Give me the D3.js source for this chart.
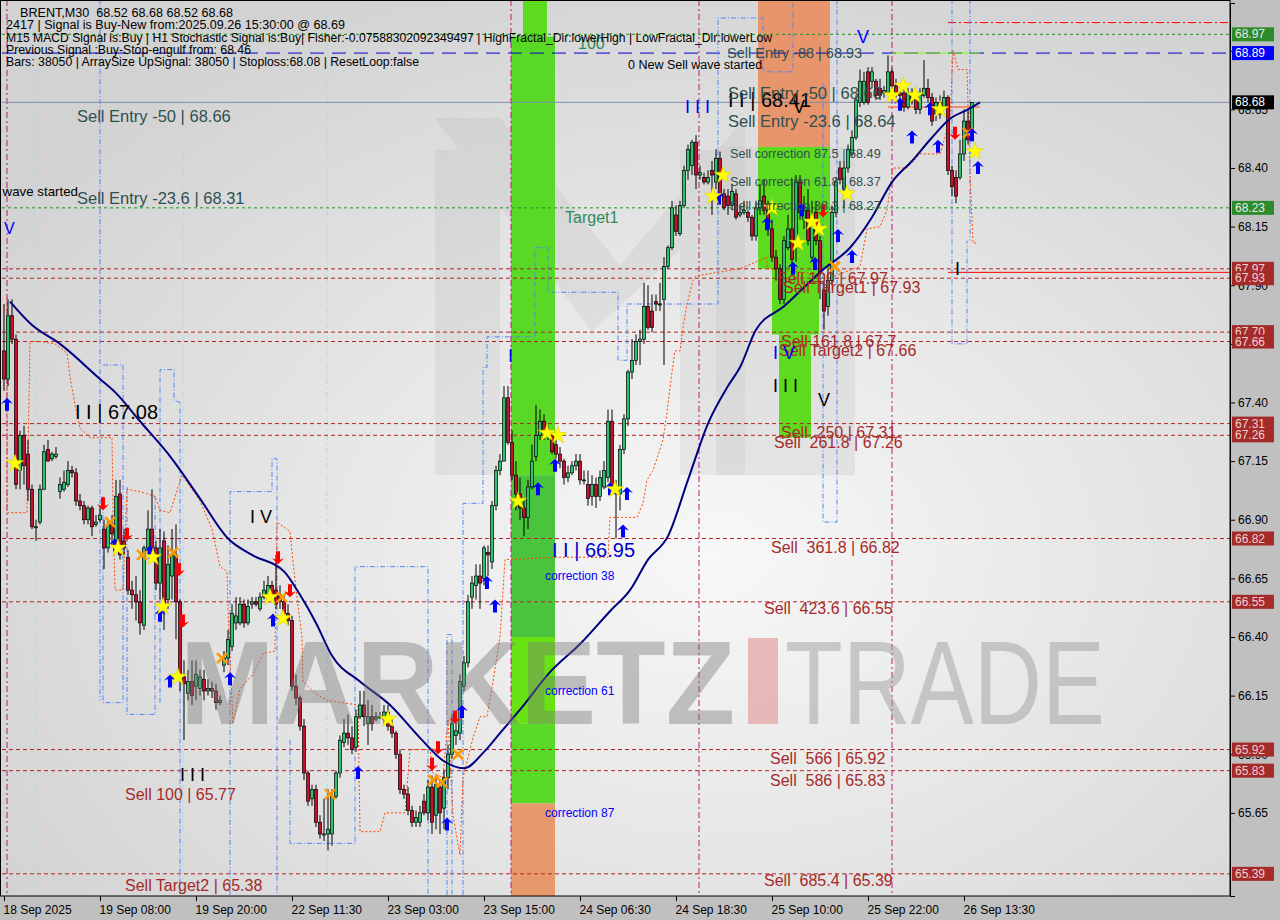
<!DOCTYPE html>
<html><head><meta charset="utf-8">
<script src="https://cdn.jsdelivr.net/npm/d3@7/dist/d3.min.js"></script>
<style>
body{margin:0;background:#c0c0c0;}
svg{display:block;font-family:"Liberation Sans",Arial,sans-serif;}
text{white-space:pre;}
</style>
</head><body>
<svg id="chart" width="1280" height="920"></svg>
<script>
// ---------------- DATA ----------------
const open = [67.62,67.50,67.77,67.67,67.11,67.26,67.18,67.03,66.87,66.89,
67.03,67.20,67.16,67.17,67.02,67.03,67.05,67.11,67.10,66.98,
66.96,66.90,66.95,66.88,66.90,66.86,66.78,66.88,66.81,67.01,
66.81,66.74,66.60,66.58,66.55,66.45,66.78,66.86,66.78,66.63,
66.81,66.56,66.66,66.75,66.55,66.23,66.16,66.21,66.19,66.18,
66.22,66.17,66.18,66.17,66.12,66.28,66.31,66.36,66.46,66.46,
66.54,66.46,66.54,66.55,66.52,66.57,66.56,66.62,66.60,66.58,
66.55,66.50,66.47,66.19,66.14,66.02,65.82,65.71,65.75,65.61,
65.56,65.56,65.56,65.72,65.82,65.95,65.99,65.97,65.93,66.06,
66.11,66.03,66.06,66.05,66.06,66.05,66.08,66.02,65.99,65.90,
65.75,65.73,65.66,65.61,65.61,65.70,65.65,65.76,65.64,65.76,
65.67,65.80,65.90,65.98,65.99,66.19,66.29,66.57,66.62,66.66,
66.65,66.76,66.72,66.96,67.11,67.15,67.42,67.23,67.09,67.01,
66.95,66.91,67.04,67.17,67.26,67.32,67.27,67.26,67.22,67.18,
67.15,67.08,67.10,67.13,67.15,67.07,67.05,67.00,67.05,67.00,
67.04,67.08,67.32,67.02,67.01,67.20,67.33,67.53,67.58,67.66,
67.67,67.81,67.79,67.83,67.82,67.84,67.98,68.06,68.20,68.12,
68.24,68.39,68.41,68.51,68.37,68.36,68.34,68.39,68.34,68.44,
68.29,68.28,68.24,68.29,68.20,68.21,68.21,68.19,68.11,68.23,
68.28,68.22,68.14,68.02,67.97,67.84,68.06,68.14,68.09,68.34,
68.18,68.22,68.02,68.21,68.09,67.88,67.81,67.92,68.21,68.40,
68.31,68.40,68.46,68.53,68.68,68.68,68.81,68.77,68.77,68.74,
68.72,68.72,68.81,68.75,68.72,68.72,68.66,68.72,68.70,68.65,
68.71,68.74,68.70,68.63,68.68,68.66,68.70,68.39,68.36,68.36,
68.46,68.60,68.52];
const high = [67.82,67.84,67.84,67.69,67.28,67.30,67.24,67.05,66.90,67.05,
67.22,67.24,67.19,67.21,67.08,67.11,67.15,67.13,67.12,67.01,
66.98,66.96,66.96,66.92,66.96,66.90,66.90,66.92,67.07,67.07,
66.86,66.77,66.64,66.66,66.60,66.79,66.94,67.03,66.81,66.86,
66.85,66.79,66.86,66.88,66.56,66.30,66.26,66.30,66.30,66.26,
66.26,66.22,66.21,66.20,66.15,66.34,66.43,66.54,66.57,66.57,
66.56,66.56,66.57,66.57,66.59,66.64,66.66,66.64,66.75,66.62,
66.58,66.54,66.49,66.24,66.15,66.05,65.83,65.77,65.77,65.64,
65.71,65.75,65.75,65.83,65.98,66.05,66.07,66.02,66.09,66.17,
66.17,66.13,66.11,66.08,66.08,66.11,66.11,66.05,66.00,65.92,
65.77,65.76,65.68,65.66,65.68,65.73,65.79,65.81,65.81,65.79,
65.83,65.94,66.07,66.05,66.24,66.32,66.58,66.66,66.71,66.71,
66.79,66.79,66.98,67.13,67.18,67.47,67.47,67.28,67.15,67.08,
66.98,67.07,67.22,67.39,67.37,67.35,67.30,67.28,67.24,67.21,
67.16,67.13,67.15,67.18,67.18,67.11,67.11,67.09,67.08,67.11,
67.15,67.37,67.37,67.07,67.22,67.35,67.54,67.67,67.69,67.71,
67.91,67.90,67.86,67.86,67.91,68.02,68.07,68.26,68.24,68.26,
68.41,68.50,68.52,68.54,68.41,68.38,68.39,68.43,68.48,68.47,
68.31,68.31,68.33,68.31,68.24,68.26,68.22,68.20,68.26,68.33,
68.35,68.26,68.18,68.05,67.99,68.11,68.20,68.35,68.37,68.37,
68.28,68.31,68.26,68.26,68.11,67.92,67.97,68.24,68.36,68.43,
68.43,68.50,68.56,68.71,68.82,68.81,68.83,68.83,68.78,68.78,
68.75,68.88,68.83,68.78,68.75,68.75,68.74,68.74,68.73,68.74,
68.86,68.78,68.72,68.70,68.71,68.73,68.71,68.41,68.39,68.52,
68.65,68.65,68.68];
const low = [67.45,67.47,67.65,67.03,67.03,67.05,66.98,66.86,66.81,66.88,
67.03,67.15,67.15,67.16,66.99,67.02,67.04,67.08,66.96,66.94,
66.88,66.88,66.83,66.87,66.89,66.69,66.76,66.79,66.79,66.73,
66.75,66.58,66.52,66.47,66.41,66.43,66.75,66.73,66.60,66.56,
66.43,66.52,66.56,66.39,66.17,65.96,66.13,66.11,66.13,66.15,
66.13,66.15,66.14,66.09,66.11,66.25,66.28,66.34,66.43,66.45,
66.44,66.45,66.52,66.53,66.51,66.56,66.55,66.56,66.52,66.52,
66.47,66.45,66.17,66.11,66.00,65.79,65.68,65.68,65.59,65.54,
65.53,65.49,65.51,65.71,65.80,65.93,65.94,65.90,65.91,66.05,
66.02,65.94,66.00,66.04,66.05,66.03,66.00,65.97,65.88,65.73,
65.71,65.64,65.59,65.59,65.59,65.64,65.62,65.56,65.58,65.56,
65.58,65.75,65.88,65.94,65.96,66.17,66.27,66.52,66.56,66.52,
66.62,66.66,66.69,66.94,67.09,67.15,67.22,67.07,66.94,66.90,
66.83,66.86,67.03,67.15,67.24,67.24,67.24,67.18,67.16,67.12,
67.05,67.06,67.09,67.11,67.05,67.05,66.96,66.96,66.95,66.98,
67.03,67.06,67.01,66.82,66.94,67.18,67.30,67.50,67.56,67.56,
67.65,67.71,67.70,67.79,67.79,67.56,67.97,68.05,68.11,68.11,
68.23,68.35,68.37,68.31,68.35,68.33,68.33,68.20,68.31,68.26,
68.22,68.20,68.22,68.18,68.19,68.20,68.17,68.09,68.09,68.20,
68.20,68.11,68.00,67.92,67.82,67.82,68.05,67.99,68.00,68.18,
68.14,68.07,68.00,68.07,67.84,67.71,67.77,67.90,68.19,68.33,
68.23,68.38,68.45,68.52,68.66,68.67,68.67,68.74,68.69,68.69,
68.70,68.71,68.73,68.70,68.69,68.64,68.65,68.67,68.63,68.63,
68.70,68.68,68.58,68.60,68.61,68.65,68.37,68.28,68.25,68.35,
68.43,68.50,68.52];
const close = [67.50,67.77,67.67,67.05,67.26,67.13,67.03,66.87,66.87,67.03,
67.19,67.15,67.18,67.18,67.05,67.06,67.11,67.10,66.98,66.96,
66.90,66.95,66.87,66.89,66.92,66.78,66.88,66.84,67.00,66.75,
66.78,66.60,66.58,66.55,66.46,66.78,66.86,66.78,66.63,66.78,
66.53,66.71,66.75,66.55,66.23,66.20,66.21,66.15,66.24,66.23,
66.17,66.18,66.17,66.12,66.13,66.31,66.39,66.50,66.49,66.54,
66.46,66.53,66.55,66.54,66.57,66.60,66.62,66.58,66.54,66.55,
66.50,66.47,66.19,66.14,66.02,65.82,65.70,65.75,65.61,65.56,
65.56,65.58,65.72,65.82,65.96,65.99,65.97,65.92,66.06,66.11,
66.06,66.06,66.03,66.06,66.06,66.08,66.02,65.99,65.90,65.75,
65.73,65.66,65.61,65.63,65.65,65.65,65.76,65.61,65.77,65.65,
65.80,65.90,66.03,66.00,66.21,66.29,66.55,66.63,66.66,66.63,
66.78,66.75,66.96,67.11,67.15,67.42,67.23,67.09,67.01,66.95,
66.91,67.04,67.15,67.26,67.32,67.27,67.27,67.19,67.18,67.15,
67.08,67.10,67.13,67.15,67.07,67.07,66.99,67.05,67.00,67.08,
67.11,67.32,67.03,67.01,67.20,67.33,67.53,67.58,67.66,67.67,
67.81,67.72,67.72,67.82,67.82,67.98,68.06,68.23,68.13,68.24,
68.39,68.48,68.51,68.37,68.38,68.34,68.36,68.37,68.44,68.29,
68.23,68.24,68.30,68.19,68.21,68.22,68.19,68.11,68.23,68.26,
68.22,68.14,68.02,67.97,67.84,68.09,68.14,68.01,68.34,68.21,
68.22,68.09,68.15,68.09,67.95,67.79,67.92,68.21,68.34,68.35,
68.40,68.48,68.53,68.69,68.77,68.77,68.68,68.81,68.71,68.71,
68.73,68.81,68.75,68.72,68.71,68.66,68.72,68.69,68.65,68.72,
68.74,68.70,68.60,68.68,68.63,68.70,68.39,68.32,68.28,68.46,
68.60,68.52,68.68];

// moving average: bar index, value
const maIdx = [1.5,7,14,24,28,34,42,49,56,62,70,74,78,82,89,96.5,104,110,115,120,124,129,136.5,144,151.5,156.5,161,166,171,176,181,184,188,195,205,211.5,217,222,227,232,236.5,241,244];
const maVal = [67.83,67.73,67.65,67.50,67.44,67.32,67.16,66.99,66.82,66.75,66.68,66.58,66.46,66.32,66.21,66.11,65.97,65.87,65.84,65.91,65.99,66.09,66.25,66.37,66.51,66.60,66.73,66.83,67.07,67.31,67.47,67.55,67.71,67.81,67.97,68.06,68.19,68.34,68.43,68.53,68.61,68.65,68.68];

// axis
const priceTicks = [65.65,65.90,66.15,66.40,66.65,66.90,67.15,67.40,67.65,67.90,68.15,68.40,68.65,68.90];
const timeIdx = [0,24,48,72,96,120,144,168,192,216,240];
const timeLabels = ["18 Sep 2025","19 Sep 08:00","19 Sep 20:00","22 Sep 11:30","23 Sep 03:00","23 Sep 15:00","24 Sep 06:30","24 Sep 18:30","25 Sep 10:00","25 Sep 22:00","26 Sep 13:30"];

// levels
const redLevels = [67.97,67.93,67.70,67.66,67.31,67.26,66.82,66.55,65.92,65.83,65.39];
const greenLevels = [68.97,68.23];
const blueLevel = 68.89;
const lastPrice = 68.68;

// markers [index, price]
const stars = [[2.75,67.14],[28.5,66.78],[37.25,66.74],[39.75,66.53],[43.5,66.23],[66.5,66.57],[69.75,66.48],[96,66.05],[128.5,66.98],[135.75,67.27],[138.5,67.26],[152.75,67.03],[179.75,68.37],[177.25,68.28],[192,68.23],[198.5,68.08],[202,68.17],[203.75,68.14],[210.75,68.29],[222,68.71],[224.75,68.75],[227.75,68.71],[234,68.65],[242.75,68.47]];
const crosses = [[26.5,66.89],[34.5,66.75],[42.25,66.76],[54.5,66.31],[69.5,66.57],[81.5,65.73],[107.25,65.79],[109.5,65.78],[113.5,65.90],[207.75,67.98],[241,68.55]];
const upArrows = [[0.75,67.42],[27.75,66.82],[36.5,66.79],[39,66.52],[41.5,66.24],[56.5,66.25],[67.25,66.50],[88.5,65.85],[110.75,65.63],[114.5,66.11],[122.75,66.56],[120.75,66.66],[133.5,67.06],[137.75,67.16],[151.5,67.06],[155.75,67.04],[154.75,66.88],[178.75,68.30],[190.75,68.19],[197.25,68.00],[199.5,68.25],[202.75,68.02],[208.5,68.14],[212,68.05],[224,68.70],[227,68.56],[231.5,68.68],[233.5,68.52],[242,68.57],[243.5,68.43]];
const downArrows = [[24.75,66.94],[30.75,66.81],[43.75,66.66],[44.75,66.44],[68.5,66.71],[71.5,66.57],[108.5,65.90],[107,65.83],[112.75,66.03],[204.75,68.19],[237.75,68.52]];

// trailing stop (orange dotted) [index, price]
const orangeTrail = [[0.75,67.85],[0.75,66.93],[5.75,66.93],[6.5,67.66],[9,67.66],[12.75,67.65],[15.75,67.61],[16.5,67.51],[17.75,67.39],[19,67.29],[21.5,67.25],[27,67.25],[27.25,66.94],[27.75,66.60],[29.75,66.60],[30.75,67.03],[34,67.02],[37.75,67.00],[39,66.94],[41.5,66.93],[44.5,67.09],[47,67.03],[49,66.98],[52,66.86],[54,66.70],[55.75,66.68],[56,66.52],[57.25,66.03],[59,66.18],[62.25,66.24],[64.75,66.33],[67.75,66.34],[68.25,66.89],[71.5,66.85],[72.25,66.72],[73.25,66.57],[74.5,66.40],[74.75,66.21],[77.75,66.16],[80.75,66.13],[88.5,66.11],[89,65.57],[94,65.57],[95.25,65.65],[100.25,65.65],[101.5,65.92],[106.5,65.92],[107.25,65.82],[109.75,65.80],[111,66.05],[112.25,65.64],[114,65.47],[114.75,65.80],[117.25,65.97],[119,66.06],[120.75,66.06],[122.25,66.21],[124,66.40],[125.25,66.73],[137.75,66.74],[151,66.74],[151.5,66.91],[158.25,66.91],[159.75,66.97],[160.75,67.07],[162.25,67.11],[164.75,67.24],[165.75,67.36],[167,67.53],[167.75,67.62],[169,67.62],[169.75,67.72],[170.75,67.82],[171.5,67.87],[172.25,67.92],[173,67.94],[184,67.97],[190.75,68.02],[190.75,67.97],[207.75,67.94],[214,67.98],[215.75,68.14],[219,68.15],[220.75,68.22],[222.25,68.40],[225.75,68.40],[229,68.46],[234,68.46],[236.5,68.60],[237.25,68.90],[238.5,68.82],[240.75,68.82],[241.5,68.38],[242.25,68.08],[243.25,68.08]];

// fractal channels (blue dash-dot) [index, price]
const blueChannels = [
  [[24,69.12],[24,66.13]],
  [[24.75,67.56],[29.75,67.56],[29.75,66.12],[24.75,66.12],[24.75,67.0]],
  [[30.75,67.04],[30.75,66.07],[37.75,66.07],[37.75,67.0]],
  [[39,66.12],[39,67.54],[42.5,67.54],[42.5,67.41],[44,67.40],[44,65.30]],
  [[56.5,65.30],[56.5,67.02],[67,67.02],[67,67.16],[68.25,67.16],[68.25,65.30]],
  [[71.5,65.96],[71.5,65.52],[87.75,65.52],[87.75,66.70],[106,66.70],[106,65.30]],
  [[110.75,65.30],[110.75,66.41],[112,66.41],[112,65.30]],
  [[114.75,65.30],[114.75,66.97],[119.75,66.97],[119.75,67.55],[120.75,67.55],[120.75,67.68],[132.75,67.68],[132.75,68.06],[136,68.06],[136,67.87],[153.5,67.87],[153.5,67.58],[155.75,67.58],[155.75,67.82],[178.5,67.82],[178.5,69.04],[189.75,69.04],[189.75,68.81],[197.25,68.81],[197.25,69.12]],
  [[204.75,68.76],[204.75,66.89],[208.25,66.89],[208.25,69.12]],
  [[237,69.12],[237,67.65],[240.75,67.65],[240.75,68.09]],
  [[241.5,69.12],[241.5,68.09]]
];

// annotations: text, bar index, price, style key
const notes = [
  ["Sell Entry -50 | 68.66",18.25,68.62,"entry"],
  ["Sell Entry -23.6 | 68.31",18.25,68.27,"entry"],
  ["0 New Sell wave started",18.5,68.30,"noteEnd"],
  ["V",0,68.14,"blue16"],
  ["I I | 67.08",17.75,67.36,"black20"],
  ["I V",61.5,66.91,"black18"],
  ["I I I",44,65.81,"black18"],
  ["Sell 100 | 65.77",30.25,65.73,"sell"],
  ["Sell Target2 | 65.38",30.25,65.34,"sell"],
  ["I",126,67.60,"blue18"],
  ["I I | 66.95",137,66.77,"blue20"],
  ["Target1",140.25,68.19,"green"],
  ["100",143.5,68.93,"green"],
  ["correction 38",135.25,66.66,"corr"],
  ["correction 61",135.25,66.17,"corr"],
  ["correction 87",135.25,65.65,"corr"],
  ["0 New Sell wave started",156,68.84,"note"],
  ["I I I",170.25,68.66,"blue18"],
  ["I I | 68.41",181,68.69,"black20"],
  ["V",197.25,68.66,"black18"],
  ["Sell Entry -88 | 68.93",180.75,68.89,"entry14"],
  ["Sell Entry -50 | 68.66",181,68.72,"entry"],
  ["Sell Entry -23.6 | 68.64",181,68.60,"entry"],
  ["V",213.25,68.96,"blue18"],
  ["Sell correction 87.5 | 68.49",181.5,68.46,"corrS"],
  ["Sell correction 61.8 | 68.37",181.5,68.34,"corrS"],
  ["Sell correction 38.2 | 68.27",181.5,68.24,"corrS"],
  ["Sell 100 | 67.97",193.25,67.93,"sell"],
  ["Sell Target1 | 67.93",194.75,67.89,"sell"],
  ["Sell 161.8 | 67.7",194.25,67.66,"sell"],
  ["Sell Target2 | 67.66",193.75,67.62,"sell"],
  ["I V",192.25,67.61,"blue18"],
  ["I I I",192.25,67.47,"black18"],
  ["V",203.5,67.41,"black18"],
  ["Sell  250 | 67.31",194.25,67.27,"sell"],
  ["Sell  261.8 | 67.26",192.5,67.23,"sell"],
  ["Sell  361.8 | 66.82",191.75,66.78,"sell"],
  ["Sell  423.6 | 66.55",190,66.52,"sell"],
  ["Sell  566 | 65.92",191.5,65.88,"sell"],
  ["Sell  586 | 65.83",191.5,65.79,"sell"],
  ["Sell  685.4 | 65.39",190,65.36,"sell"],
  ["I",237.75,67.97,"black18"]
];

const header = [
  "BRENT,M30  68.52 68.68 68.52 68.68",
  "2417 | Signal is Buy-New from:2025.09.26 15:30:00 @ 68.69",
  "M15 MACD Signal is:Buy | H1 Stochastic Signal is:Buy| Fisher:-0.07588302092349497 | HighFractal_Dir:lowerHigh | LowFractal_Dir:lowerLow",
  "Previous Signal :Buy-Stop-engulf from: 68.46",
  "Bars: 38050 | ArraySize UpSignal: 38050 | Stoploss:68.08 | ResetLoop:false"
];

// ---------------- DRAW ----------------
const svg = d3.select("#chart");
const PR = 1230, PB = 896;
const x = d3.scaleLinear().domain([-0.5, 306.5]).range([2, PR]);
const y = d3.scaleLinear().domain([65.2955, 69.1036]).range([PB, 3]);

const styles = {
  entry:{fill:"#2f4f4f",size:16.5}, entry14:{fill:"#2f4f4f",size:14.5},
  noteEnd:{fill:"#000",size:13.3,anchor:"end"}, note:{fill:"#000",size:12.5},
  blue16:{fill:"#0000ff",size:16}, blue18:{fill:"#0000ff",size:18}, blue20:{fill:"#0000cd",size:20},
  black18:{fill:"#000",size:18}, black20:{fill:"#000",size:20},
  sell:{fill:"#a52a2a",size:16}, green:{fill:"#2e8b57",size:16},
  corr:{fill:"#0000ff",size:12}, corrS:{fill:"#2f4f4f",size:12.7}
};

const defs = svg.append("defs");
const rg = defs.append("radialGradient").attr("id","bg").attr("cx","58%").attr("cy","62%").attr("r","70%");
rg.append("stop").attr("offset","0%").attr("stop-color","#f8f8f8");
rg.append("stop").attr("offset","100%").attr("stop-color","#d2d2d2");
defs.append("clipPath").attr("id","clip").append("rect").attr("x",0).attr("y",0).attr("width",PR).attr("height",PB);

svg.append("rect").attr("width",1280).attr("height",920).attr("fill","#c0c0c0");
svg.append("rect").attr("x",0).attr("y",0).attr("width",PR).attr("height",PB).attr("fill","url(#bg)");

const plot = svg.append("g").attr("clip-path","url(#clip)");

// background M logo (decoration)
const logo = plot.append("g").attr("fill","#a8a8a8").attr("opacity",0.16);
[[[435,150],[500,150],[500,475],[435,475]],
 [[435,118],[500,118],[620,265],[592,332]],
 [[592,332],[620,265],[745,118],[745,190]],
 [[680,150],[745,150],[745,475],[680,475]]].forEach(p=>logo.append("polygon").attr("points",p.map(d=>d.join(",")).join(" ")));

// bands
const band = (i0,i1,p0,p1,col,op=1)=>plot.append("rect").attr("x",x(i0)).attr("width",x(i1)-x(i0))
  .attr("y",y(p1)).attr("height",y(p0)-y(p1)).attr("fill",col).attr("opacity",op);
band(178,212.75,67.09,68.49,"#c8c8c8",0.35);
band(129.75,135.75,68.96,69.12,"#5ddb1f");
band(126.75,137.75,67.09,68.96,"#5ad826");
band(126.75,137.75,66.40,67.09,"#4ac43c");
band(126.75,137.75,66.03,66.40,"#68e212");
band(126.75,137.75,65.69,66.03,"#5ad826");
band(126.75,137.75,65.29,65.69,"#e8996b");
band(188.5,206.5,68.49,69.12,"#e8956b");
band(188.5,206.5,67.97,68.49,"#5ddb1f");
band(192,203.75,67.69,67.97,"#5ddb1f");
band(193.75,201.75,67.25,67.69,"#5ddb1f");

// vertical lines
const vline=(i,col,dash,w=1)=>plot.append("line").attr("x1",x(i)).attr("x2",x(i)).attr("y1",0).attr("y2",PB)
  .attr("stroke",col).attr("stroke-dasharray",dash).attr("stroke-width",w);
[7.75,44.75,80.75].forEach(i=>vline(i,"#a8dde8","6,3,2,3"));
[0.75,126.75,173.75,222].forEach(i=>vline(i,"#c0157a","6,3,2,3"));

// horizontal levels
const hline=(p,col,dash,i0=-0.5,i1=306.5,w=1)=>plot.append("line").attr("x1",x(i0)).attr("x2",x(i1))
  .attr("y1",y(p)).attr("y2",y(p)).attr("stroke",col).attr("stroke-dasharray",dash).attr("stroke-width",w);
redLevels.forEach(p=>hline(p,"#b22222","4,3"));
greenLevels.forEach(p=>hline(p,"#1f8f1f","3,3"));
hline(blueLevel,"#0000cd","14,8");
hline(lastPrice,"#7d8fa3",null);
hline(69.02,"#ff0000","8,3,2,3",236,306.5);
hline(67.955,"#ff0000",null,236,306.5);
hline(68.66,"#ff4500",null,221,244);
hline(blueLevel,"#7cfc00",null,222,244);

// channels & trails
const line = d3.line().x(d=>x(d[0])).y(d=>y(d[1]));
blueChannels.forEach(c=>plot.append("path").attr("d",line(c)).attr("fill","none").attr("stroke","#4f86f7").attr("stroke-width",1).attr("stroke-dasharray","5,2,1,2"));
plot.append("path").attr("d",line(orangeTrail)).attr("fill","none").attr("stroke","#ff4500").attr("stroke-width",1).attr("stroke-dasharray","2,2");

// candles
const cg = plot.append("g");
open.forEach((o,i)=>{
  const c=close[i], h=Math.max(high[i],o,c), l=Math.min(low[i],o,c), xc=x(i);
  cg.append("line").attr("x1",xc).attr("x2",xc).attr("y1",y(h)).attr("y2",y(l)).attr("stroke","#000").attr("stroke-width",1);
  const top=y(Math.max(o,c)), bot=y(Math.min(o,c));
  cg.append("rect").attr("x",xc-1.6).attr("width",3.2).attr("y",top).attr("height",Math.max(1,bot-top))
    .attr("fill", c>=o ? "#2fbf71" : "#c8102e").attr("stroke","#000").attr("stroke-width",0.7);
});

// moving average
plot.append("path").attr("d",d3.line().x((d,k)=>x(maIdx[k])).y(d=>y(d)).curve(d3.curveMonotoneX)(maVal))
  .attr("fill","none").attr("stroke","#000080").attr("stroke-width",2);

// watermark
plot.append("text").attr("x",180).attr("y",724).attr("font-size",118).attr("font-weight","bold")
  .attr("textLength",555).attr("lengthAdjust","spacingAndGlyphs").attr("fill","#7a7a7a").attr("opacity",0.42).text("MARKETZ");
plot.append("rect").attr("x",748).attr("y",638).attr("width",30).attr("height",86).attr("fill","#e08a8a").attr("opacity",0.55);
plot.append("text").attr("x",785).attr("y",724).attr("font-size",118)
  .attr("textLength",320).attr("lengthAdjust","spacingAndGlyphs").attr("fill","#a0a0a0").attr("opacity",0.5).text("TRADE");

// markers
const mg = plot.append("g");
crosses.forEach(([i,p])=>mg.append("path").attr("d","M-5,-5L5,5M-5,5L5,-5").attr("transform",`translate(${x(i)},${y(p)})`)
  .attr("stroke","#ff9900").attr("stroke-width",2.6).attr("fill","none"));
const arrowUp="M0,-7 L6,-1 L2,-2.5 L2,6 L-2,6 L-2,-2.5 L-6,-1 Z";
upArrows.forEach(([i,p])=>mg.append("path").attr("d",arrowUp).attr("transform",`translate(${x(i)},${y(p)+7})`).attr("fill","#0000ff"));
downArrows.forEach(([i,p])=>mg.append("path").attr("d",arrowUp).attr("transform",`translate(${x(i)},${y(p)-7}) rotate(180)`).attr("fill","#ff0000"));
stars.forEach(([i,p])=>mg.append("path").attr("d",d3.symbol(d3.symbolStar,95)()).attr("transform",`translate(${x(i)},${y(p)})`)
  .attr("fill","#ffff00").attr("stroke","#d8c800").attr("stroke-width",0.5));

// annotations
notes.forEach(([t,i,p,s])=>{
  const st=styles[s];
  plot.append("text").attr("x",x(i)).attr("y",y(p)).attr("dominant-baseline","central")
    .attr("text-anchor",st.anchor||"start").attr("font-size",st.size).attr("fill",st.fill).text(t);
});

// header
const hdrX=[20,6,6,6,6], hdrW=[213,339,766,245,413];
header.forEach((t,k)=>svg.append("text").attr("x",hdrX[k]).attr("y",17+12.3*k).attr("font-size",12.3)
  .attr("textLength",hdrW[k]).attr("lengthAdjust","spacingAndGlyphs").attr("fill","#000").text(t));

// frame
svg.append("rect").attr("x",0.5).attr("y",0.5).attr("width",PR-0.5).attr("height",PB-0.5).attr("fill","none").attr("stroke","#000");

// axes
const ay = svg.append("g").attr("transform",`translate(${PR},0)`)
  .call(d3.axisRight(y).tickValues(priceTicks).tickSize(5).tickPadding(3).tickFormat(d3.format(".2f")));
ay.select(".domain").attr("stroke","#000");
ay.selectAll("text").attr("font-size",12).attr("fill","#000").attr("font-family","Liberation Sans, Arial");
const ax = svg.append("g").attr("transform",`translate(0,${PB})`)
  .call(d3.axisBottom(x).tickValues(timeIdx).tickSize(5).tickPadding(4).tickFormat((d,k)=>timeLabels[k]));
ax.select(".domain").remove();
ax.selectAll("text").attr("font-size",12).attr("fill","#000").attr("text-anchor","start").attr("dx",-1).attr("font-family","Liberation Sans, Arial");

// price tags
const tag=(p,col,txt="#eaeaea")=>{
  svg.append("rect").attr("x",PR+2).attr("y",y(p)-7).attr("width",42).attr("height",14).attr("fill",col);
  svg.append("text").attr("x",PR+5).attr("y",y(p)).attr("dominant-baseline","central").attr("font-size",12).attr("fill",txt).text(p.toFixed(2));
};
redLevels.forEach(p=>tag(p,"#a52a2a","#f0d0d0"));
greenLevels.forEach(p=>tag(p,"#2c8c2c"));
tag(blueLevel,"#0000ff","#ffffff");
tag(lastPrice,"#000000","#ffffff");
</script>
</body></html>
